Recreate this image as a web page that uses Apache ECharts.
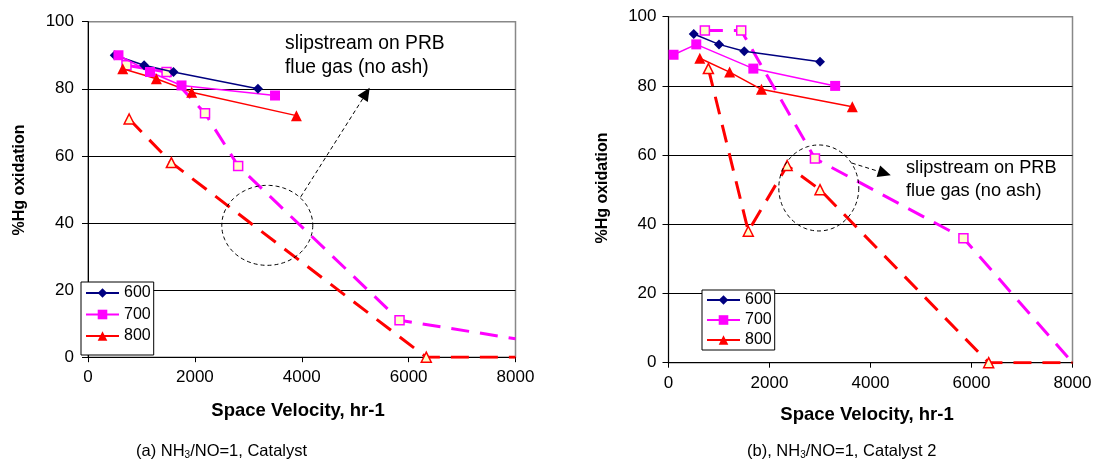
<!DOCTYPE html>
<html>
<head>
<meta charset="utf-8">
<script src="https://cdn.jsdelivr.net/npm/echarts@6/dist/echarts.min.js"></script>
<style>html,body{margin:0;padding:0;background:#fff;}#c{width:1099px;height:463px;}</style>
</head>
<body>
<div id="c"></div>
<script>
// ---- data (a) Catalyst ----
const a600X = [500, 1050, 1600, 3180];
const a600Y = [90, 87, 85, 80];
const a700X = [570, 1160, 1750, 3500];
const a700Y = [90, 85, 81, 78];
const a800X = [650, 1280, 1940, 3900];
const a800Y = [86, 83, 79, 72];
const a700sX = [720, 1470, 2190, 2810, 5830, 8000];
const a700sY = [87, 85, 72.7, 57, 11, 5.5];
const a800sX = [770, 1560, 6330, 8000];
const a800sY = [71, 58, 0, 0];
// ---- data (b) Catalyst 2 ----
const b600X = [500, 1000, 1500, 3000];
const b600Y = [95, 92, 90, 87];
const b700X = [100, 550, 1680, 3300];
const b700Y = [89, 92, 85, 80];
const b800X = [620, 1210, 1840, 3640];
const b800Y = [88, 84, 79, 74];
const b700sX = [720, 1440, 2900, 5840, 8000];
const b700sY = [96, 96, 59, 36, 0];
const b800sX = [790, 1580, 2350, 3000, 6340, 8000];
const b800sY = [85, 38, 57, 50, 0, 0];
// axis ticks
const xMin = 0, xMax = 8000, xStep = 2000;
const yMin = 0, yMax = 100, yStep = 20;
const legendNames = ['600', '700', '800'];
const noteText = 'slipstream on PRB\nflue gas (no ash)';
const captionA = '(a) NH{s|3}/NO=1, Catalyst';
const captionB = '(b), NH{s|3}/NO=1, Catalyst 2';
const xTitle = 'Space Velocity, hr-1';
const yTitle = '%Hg oxidation';

const FONT = '"Liberation Sans", Arial, sans-serif';
function pts(xs, ys, noEndSymbol) {
  return xs.map((x, i) => {
    if (noEndSymbol && i === xs.length - 1) return { value: [x, ys[i]], symbol: 'none' };
    return [x, ys[i]];
  });
}
function solid(name, color, symbol, size, data, gi) {
  return { name, type: 'line', xAxisIndex: gi, yAxisIndex: gi, data, symbol, symbolSize: size,
    lineStyle: { color, width: 1.5 }, itemStyle: { color, borderWidth: 0 }, z: 5, animation: false };
}
function dashed(name, color, symbol, size, data, gi, width) {
  return { name, type: 'line', xAxisIndex: gi, yAxisIndex: gi, data, symbol, symbolSize: size,
    lineStyle: { color, width: width, type: [18, 11] },
    itemStyle: { color: '#FFFFCC', borderColor: color, borderWidth: 1.5 }, z: 4, animation: false };
}
function xAx(gi) {
  return { type: 'value', gridIndex: gi, min: xMin, max: xMax, interval: xStep,
    axisLine: { show: true, lineStyle: { color: '#000', width: 1 } },
    axisTick: { show: true, inside: false, length: 5, lineStyle: { color: '#000' } },
    axisLabel: { color: '#000', fontSize: 17, fontFamily: FONT, margin: 12, formatter: v => String(v) },
    splitLine: { show: false } };
}
function yAx(gi, margin) {
  return { type: 'value', gridIndex: gi, min: yMin, max: yMax, interval: yStep,
    axisLine: { show: true, lineStyle: { color: '#000', width: 1 } },
    axisTick: { show: true, inside: false, length: 6, lineStyle: { color: '#000' } },
    axisLabel: { color: '#000', fontSize: 17, fontFamily: FONT, margin: margin, formatter: v => String(v) },
    splitLine: { show: true, lineStyle: { color: ['#000', '#000', '#000', '#000', '#000', '#888'], width: 1 } } };
}

const chart = echarts.init(document.getElementById('c'), null, { renderer: 'canvas' });
const option = {
  backgroundColor: '#fff',
  animation: false,
  grid: [
    { left: 88, top: 21.7, width: 427.5, height: 335.5, show: true, borderColor: '#888', borderWidth: 1.5, backgroundColor: 'transparent' },
    { left: 668.5, top: 16.7, width: 404, height: 346, show: true, borderColor: '#888', borderWidth: 1.5, backgroundColor: 'transparent' }
  ],
  xAxis: [xAx(0), xAx(1)],
  yAxis: [yAx(0, 14), yAx(1, 12)],
  legend: [
    { data: legendNames, orient: 'vertical', left: 81, top: 282, itemWidth: 33, itemHeight: 12, itemGap: 5.5,
      padding: [3, 3, 11, 4], borderColor: '#000', borderWidth: 1, backgroundColor: '#fff',
      textStyle: { fontSize: 16, fontFamily: FONT, color: '#000' }, selectedMode: false },
    { data: legendNames, orient: 'vertical', left: 702, top: 290, itemWidth: 33, itemHeight: 12, itemGap: 4,
      padding: [2, 3, 2, 4], borderColor: '#000', borderWidth: 1, backgroundColor: '#fff',
      textStyle: { fontSize: 16, fontFamily: FONT, color: '#000' }, selectedMode: false }
  ],
  series: [
    dashed('700 slip a', '#FF00FF', 'rect', 9, pts(a700sX, a700sY, true), 0, 3),
    dashed('800 slip a', '#FF0000', 'triangle', 10, pts(a800sX, a800sY, true), 0, 3),
    solid('600', '#000080', 'diamond', 10, pts(a600X, a600Y), 0),
    solid('700', '#FF00FF', 'rect', 10, pts(a700X, a700Y), 0),
    solid('800', '#FF0000', 'triangle', 11, pts(a800X, a800Y), 0),
    dashed('700 slip b', '#FF00FF', 'rect', 9, pts(b700sX, b700sY, true), 1, 3),
    dashed('800 slip b', '#FF0000', 'triangle', 10, pts(b800sX, b800sY, true), 1, 3),
    solid('600', '#000080', 'diamond', 10, pts(b600X, b600Y), 1),
    solid('700', '#FF00FF', 'rect', 10, pts(b700X, b700Y), 1),
    solid('800', '#FF0000', 'triangle', 11, pts(b800X, b800Y), 1)
  ]
};
chart.setOption(option);

// annotations positioned from data coordinates
function px(gi, x, y) { return chart.convertToPixel({ gridIndex: gi }, [x, y]); }
function arrow(gi, from, to) {
  const p0 = px(gi, from[0], from[1]), p1 = px(gi, to[0], to[1]);
  const dx = p1[0] - p0[0], dy = p1[1] - p0[1], L = Math.hypot(dx, dy);
  const ux = dx / L, uy = dy / L, hl = 13, hw = 6;
  const bx = p1[0] - ux * hl, by = p1[1] - uy * hl;
  return [
    { type: 'line', shape: { x1: p0[0], y1: p0[1], x2: bx, y2: by }, style: { stroke: '#000', lineWidth: 1, lineDash: [4, 3] }, z: 50 },
    { type: 'polygon', shape: { points: [[p1[0], p1[1]], [bx - uy * hw, by + ux * hw], [bx + uy * hw, by - ux * hw]] }, style: { fill: '#000' }, z: 50 }
  ];
}
function ellipse(gi, c, rx, ry) {
  const p = px(gi, c[0], c[1]);
  const points = [];
  for (let i = 0; i < 120; i++) { const t = i / 120 * Math.PI * 2; points.push([p[0] + rx * Math.cos(t), p[1] + ry * Math.sin(t)]); }
  return { type: 'polygon', shape: { points }, style: { fill: 'none', stroke: '#000', lineWidth: 1, lineDash: [4, 3] }, z: 50 };
}
const textStyleBase = { fill: '#000', fontFamily: FONT };
const graphics = [
  ellipse(0, [3355, 39.3], 45.5, 40),
  ...arrow(0, [3981, 47.8], [5271, 80.3]),
  ellipse(1, [2976, 50.5], 40, 43),
  ...arrow(1, [3630, 57.7], [4402, 54.2]),
  { type: 'text', left: 285, top: 32, style: Object.assign({ text: noteText, fontSize: 19.3, lineHeight: 24 }, textStyleBase), z: 60 },
  { type: 'text', left: 906, top: 156, style: Object.assign({ text: noteText, fontSize: 18.2, lineHeight: 23 }, textStyleBase), z: 60 },
  { type: 'text', x: 298, y: 411, style: Object.assign({ text: xTitle, fontSize: 18.5, fontWeight: 'bold', align: 'center', verticalAlign: 'middle' }, textStyleBase), z: 60 },
  { type: 'text', x: 867, y: 415, style: Object.assign({ text: xTitle, fontSize: 18.5, fontWeight: 'bold', align: 'center', verticalAlign: 'middle' }, textStyleBase), z: 60 },
  { type: 'text', x: 20, y: 180, rotation: Math.PI / 2, style: Object.assign({ text: yTitle, fontSize: 16, fontWeight: 'bold', align: 'center', verticalAlign: 'middle' }, textStyleBase), z: 60 },
  { type: 'text', x: 603, y: 188, rotation: Math.PI / 2, style: Object.assign({ text: yTitle, fontSize: 16, fontWeight: 'bold', align: 'center', verticalAlign: 'middle' }, textStyleBase), z: 60 },
  { type: 'text', left: 136, top: 443, style: Object.assign({ text: captionA, fontSize: 16.5, rich: { s: { fontSize: 10, verticalAlign: 'bottom', padding: [8, 0, 0, 0], fontFamily: FONT } } }, textStyleBase), z: 60 },
  { type: 'text', left: 747, top: 443, style: Object.assign({ text: captionB, fontSize: 16.5, rich: { s: { fontSize: 10, verticalAlign: 'bottom', padding: [8, 0, 0, 0], fontFamily: FONT } } }, textStyleBase), z: 60 }
];
chart.setOption({ graphic: graphics });
</script>
</body>
</html>
